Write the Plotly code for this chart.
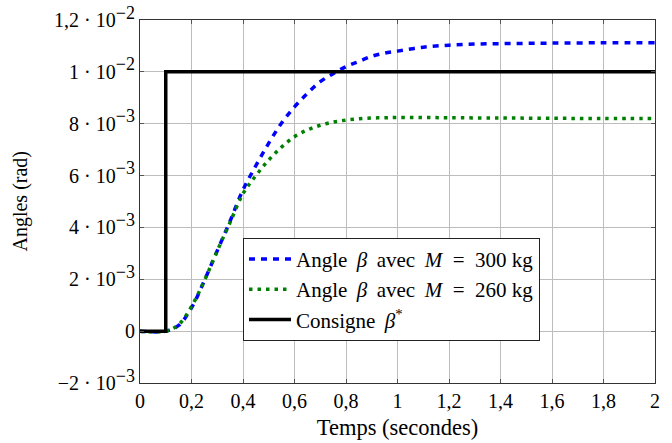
import plotly.graph_objects as go

# Temps (s) et angles
t_300 = [0, 0.1, 0.15, 0.2, 0.25, 0.3, 0.35, 0.4, 0.45, 0.5, 0.55, 0.6, 0.65, 0.7, 0.75,
         0.8, 0.85, 0.9, 0.95, 1.0, 1.1, 1.2, 1.3, 1.4, 1.5, 1.6, 1.8, 2.0]
beta_300 = [0, 0, 0.00022, 0.0009, 0.00195, 0.0031, 0.00425, 0.00545, 0.00638, 0.00725,
            0.00803, 0.00865, 0.00917, 0.00962, 0.00993, 0.0102, 0.0104, 0.0106, 0.01072,
            0.0108, 0.01095, 0.01103, 0.01107, 0.01109, 0.0111, 0.01111, 0.01112, 0.01112]

t_260 = [0, 0.1, 0.15, 0.2, 0.25, 0.3, 0.35, 0.4, 0.45, 0.5, 0.55, 0.6, 0.65, 0.7, 0.75,
         0.8, 0.85, 0.9, 0.95, 1.0, 1.1, 1.2, 1.4, 1.6, 1.8, 2.0]
beta_260 = [0, 0, 0.00025, 0.00095, 0.00195, 0.0031, 0.0042, 0.0053, 0.006, 0.0066,
            0.0071, 0.0075, 0.00776, 0.00794, 0.00806, 0.00814, 0.00819, 0.00822, 0.00823,
            0.00824, 0.00824, 0.00823, 0.00822, 0.00821, 0.0082, 0.0082]

t_consigne = [0, 0.1, 0.1, 2.0]
beta_consigne = [0, 0, 0.01, 0.01]

x_ticks = [0, 0.2, 0.4, 0.6, 0.8, 1.0, 1.2, 1.4, 1.6, 1.8, 2.0]
x_labels = ['0', '0,2', '0,4', '0,6', '0,8', '1', '1,2', '1,4', '1,6', '1,8', '2']
y_ticks = [-0.002, 0, 0.002, 0.004, 0.006, 0.008, 0.010, 0.012]
y_mant = ['−2', '0', '2', '4', '6', '8', '1', '1,2']
y_exp = ['−3', '', '−3', '−3', '−3', '−3', '−2', '−2']


def label(m, e):
    if e == '':
        return m
    return m + '\u00a0·\u00a010<sup><span style="font-size:18px">' + e + '</span></sup>'


y_labels = [label(m, e) for m, e in zip(y_mant, y_exp)]

serif = 'Liberation Serif, Times New Roman, serif'
police = dict(family=serif, size=20, color='black')
eq = '\u00a0\u00a0=\u00a0\u00a0'
sp = '\u2009 '

fig = go.Figure()
fig.add_trace(go.Scatter(x=t_300, y=beta_300, mode='lines', line_shape='spline',
                         name='Angle' + sp + '<i>β</i>' + sp + 'avec' + sp + '<i>M</i>' + eq + '300 kg',
                         line=dict(color='#0000ff', width=3.5, dash='6px,6px')))
fig.add_trace(go.Scatter(x=t_260, y=beta_260, mode='lines', line_shape='spline',
                         name='Angle' + sp + '<i>β</i>' + sp + 'avec' + sp + '<i>M</i>' + eq + '260 kg',
                         line=dict(color='#008000', width=3.5, dash='3.5px,5px')))
fig.add_trace(go.Scatter(x=t_consigne, y=beta_consigne, mode='lines',
                         name='Consigne' + sp + '<i>β</i><sup>*</sup>',
                         line=dict(color='black', width=3.5)))

fig.update_layout(
    width=672, height=443,
    margin=dict(l=140, r=17, t=20, b=60, autoexpand=False),
    plot_bgcolor='white', paper_bgcolor='white',
    font=police,
    legend=dict(x=0.2, y=0.40, xanchor='left', yanchor='top',
                bgcolor='white', bordercolor='#222222', borderwidth=1,
                font=dict(family=serif, size=21, color='black'),
                tracegroupgap=0, itemwidth=42),
    annotations=[dict(text='Angles (rad)', textangle=-90, xref='paper', yref='paper',
                      x=-0.233, y=0.5, xanchor='center', yanchor='middle',
                      showarrow=False, font=dict(family=serif, size=20, color='black'))],
)
fig.update_xaxes(range=[0, 2], tickvals=x_ticks, ticktext=x_labels,
                 showgrid=True, gridcolor='#bdbdbd', gridwidth=1, zeroline=False,
                 showline=True, linecolor='#333333', linewidth=1.2, mirror='ticks',
                 ticks='inside', ticklen=4, tickcolor='#555555', automargin=False,
                 ticklabeloverflow='allow',
                 title=dict(text='Temps (secondes)', standoff=8,
                            font=dict(family=serif, size=22.5, color='black')))
fig.update_yaxes(range=[-0.002, 0.012], tickvals=y_ticks, ticktext=y_labels,
                 showgrid=True, gridcolor='#bdbdbd', gridwidth=1, zeroline=False,
                 showline=True, linecolor='#333333', linewidth=1.2, mirror='ticks',
                 ticks='inside', ticklen=4, tickcolor='#555555', automargin=False,
                 ticklabeloverflow='allow')

# supprime la marge par défaut de la page
fig.write_html('out.html', config={'displayModeBar': False},
               post_script="document.body.style.margin='0';")
